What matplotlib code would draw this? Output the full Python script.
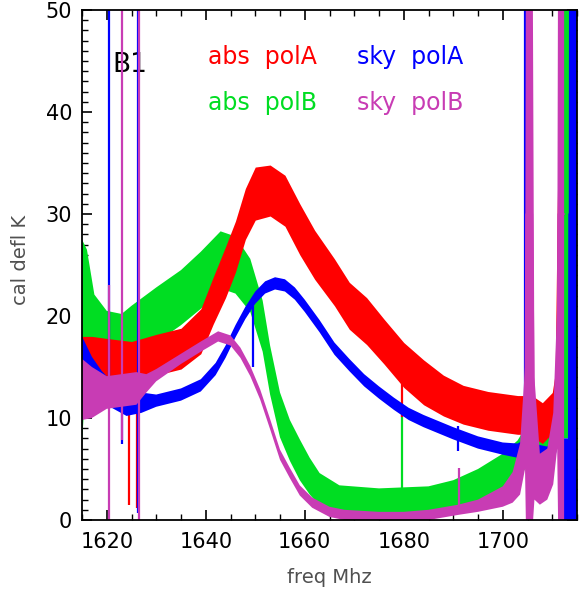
import numpy as np
from matplotlib import pyplot as plt
from matplotlib.ticker import MultipleLocator

# abs polA (red): centre of the noisy band and its half width
red_freq = [1615, 1617, 1620, 1625, 1630, 1635, 1639, 1641.5, 1644, 1646, 1648, 1650, 1653, 1656,
            1659, 1662, 1666, 1669, 1672.5, 1676, 1680, 1684, 1688, 1692, 1697, 1703, 1704,
            1706.5, 1708, 1710, 1710.8, 1711.5]
red_mid = [16, 16, 15.8, 15.5, 16.2, 16.8, 18.5, 21.5, 24.3, 26.8, 30, 32, 32.3, 31.3,
           28.5, 26, 23.3, 21, 19.5, 17.5, 15.2, 13.5, 12.2, 11.3, 10.7, 10.3, 10.3,
           10, 9.5, 10.5, 13, 40]
red_half = [2, 2, 2, 2, 2, 2, 2.2, 2.3, 2.5, 2.5, 2.5, 2.6, 2.5, 2.5,
            2.5, 2.4, 2.3, 2.3, 2.3, 2.2, 2.2, 2.2, 2.0, 1.9, 1.9, 1.9, 1.9,
            2, 2, 2, 2, 20]

# abs polB (green)
green_freq = [1615, 1616, 1617.5, 1620, 1623, 1625, 1630, 1635, 1639, 1643, 1646, 1649, 1651.5,
              1653, 1655, 1657, 1659, 1661, 1663, 1667, 1675, 1685, 1690, 1695, 1700, 1703,
              1704.5, 1706.5, 1708.5, 1710, 1711, 1712.2, 1713.4]
green_mid = [17.5, 21, 19.6, 18.3, 18, 18.5, 20.1, 21.8, 23.5, 25.5, 25, 23, 19,
             14.7, 10.3, 7.8, 5.9, 4.3, 3.0, 1.9, 1.6, 1.8, 2.3, 3.2, 4.5, 5.8,
             7, 8, 8, 9.5, 12, 34, 34]
green_half = [10, 5.5, 2.5, 2.2, 2.2, 2.5, 2.7, 2.7, 2.8, 2.8, 2.8, 2.6, 2.5,
              2.4, 2.2, 2.0, 2.0, 1.8, 1.6, 1.5, 1.5, 1.5, 1.6, 1.8, 2, 2,
              2, 2, 2, 2, 2, 26, 26]

# sky polA (blue)
blue_freq = [1615, 1617, 1619, 1621, 1624, 1627, 1630, 1635, 1639, 1642, 1644, 1646, 1648, 1650,
             1652, 1654, 1656, 1658, 1660, 1663, 1666, 1669, 1672, 1675, 1678, 1681, 1684,
             1687, 1690, 1695, 1700, 1703, 1705, 1707, 1709, 1710.5, 1711.5, 1712.3, 1713.3,
             1713.4, 1715]
blue_mid = [16.5, 14.5, 13.3, 12.3, 11.5, 11.5, 11.7, 12.3, 13.2, 14.8, 16.5, 18.5, 20.3, 21.8,
            22.8, 23.2, 23, 22.2, 21, 19, 16.8, 15.2, 13.7, 12.5, 11.4, 10.4, 9.7,
            9.1, 8.5, 7.6, 7.0, 6.8, 6.8, 6.2, 6.0, 7.0, 10, 3.5, 3.5,
            30, 30]
blue_half = [1.5, 1.5, 1.3, 1.3, 1.3, 1.0, 0.6, 0.6, 0.6, 0.6, 0.6, 0.6, 0.6, 0.6,
             0.6, 0.6, 0.6, 0.6, 0.6, 0.6, 0.6, 0.6, 0.6, 0.6, 0.6, 0.6, 0.6,
             0.6, 0.6, 0.6, 0.6, 0.7, 1.2, 1.2, 1.2, 1.2, 1.5, 4.5, 4.5,
             31, 31]

# sky polB (magenta)
mag_freq = [1615, 1617, 1620, 1623, 1626, 1628, 1630, 1635, 1639, 1642.5, 1645, 1647, 1649, 1651,
            1653, 1655, 1657, 1659, 1661.5, 1665, 1668, 1675, 1680, 1685, 1691, 1695, 1700,
            1702, 1703.5, 1704.5, 1704.7, 1706, 1706.4, 1707.5, 1709, 1710.2, 1711, 1711.2,
            1712.4]
mag_mid = [12.8, 12.5, 12.5, 12.7, 12.9, 13.4, 14.2, 15.8, 17, 18, 17.6, 16.4, 14.6, 12.3,
           9.4, 6.4, 4.6, 2.9, 1.7, 0.8, 0.5, 0.3, 0.3, 0.5, 1.0, 1.4, 2.3,
           3.2, 5, 10, 30, 30, 8, 4, 4.5, 7, 14, 30,
           30]
mag_half = [3, 2.5, 1.6, 1.6, 1.6, 0.9, 0.6, 0.5, 0.5, 0.5, 0.5, 0.5, 0.5, 0.5,
            0.5, 0.5, 0.5, 0.5, 0.5, 0.5, 0.5, 0.5, 0.5, 0.5, 0.5, 0.6, 1.0,
            1.5, 2.5, 5, 31, 31, 6, 2.5, 2.5, 3.5, 7, 31,
            31]

# narrow spikes: frequency, bottom, top
red_spike_x = [1624.5, 1626.2, 1679.6]
red_spike_lo = [1.5, 1.2, 10.1]
red_spike_hi = [15, 15, 15]
green_spike_x = [1679.7]
green_spike_lo = [1.5]
green_spike_hi = [10.3]
blue_spike_x = [1620.4, 1623.0, 1626.4, 1649.6, 1691.0, 1704.4]
blue_spike_lo = [12, 7.5, 0.7, 15, 6.8, 7]
blue_spike_hi = [55, 12, 55, 21, 9.2, 55]
mag_spike_x = [1620.4, 1623.0, 1626.6, 1691.2]
mag_spike_lo = [-1, 7.8, -1, 0.8]
mag_spike_hi = [23, 55, 55, 5.1]

RED = "#ff0000"
GREEN = "#00dd22"
BLUE = "#0000ff"
MAG = "#c83cb4"

fig = plt.figure(figsize=(5.79, 5.94), dpi=100)
ax = fig.add_axes([82 / 579, 74 / 594, 495 / 579, 510 / 594])

series = [
    (green_freq, green_mid, green_half, GREEN, green_spike_x, green_spike_lo, green_spike_hi, 2),
    (red_freq, red_mid, red_half, RED, red_spike_x, red_spike_lo, red_spike_hi, 3),
    (blue_freq, blue_mid, blue_half, BLUE, blue_spike_x, blue_spike_lo, blue_spike_hi, 4),
    (mag_freq, mag_mid, mag_half, MAG, mag_spike_x, mag_spike_lo, mag_spike_hi, 5),
]
for f, m, h, col, sx, slo, shi, z in series:
    f = np.array(f)
    m = np.array(m)
    h = np.array(h)
    ax.fill_between(f, m - h, m + h, color=col, lw=0, zorder=z)
    ax.plot(f, m, color=col, lw=1, zorder=z)
    ax.vlines(sx, slo, shi, color=col, lw=1.6, zorder=z)

ax.set_xlim(1615, 1715)
ax.set_ylim(0, 50)
ax.xaxis.set_major_locator(MultipleLocator(20))
ax.xaxis.set_minor_locator(MultipleLocator(5))
ax.yaxis.set_major_locator(MultipleLocator(10))
ax.yaxis.set_minor_locator(MultipleLocator(1))
ax.tick_params(which="both", direction="in", top=True, right=True, labelsize=15)
ax.tick_params(which="major", length=7, width=1.2)
ax.tick_params(which="minor", length=4, width=1.0)
ax.tick_params(axis="x", pad=9)
ax.tick_params(axis="y", pad=7)
for s in ax.spines.values():
    s.set_linewidth(1.3)
    s.set_zorder(10)

ax.set_xlabel("freq Mhz", fontsize=14, color="#505050")
ax.set_ylabel("cal defl K", fontsize=14, color="#505050")
ax.xaxis.set_label_coords(0.5, -0.094)
ax.yaxis.set_label_coords(-0.105, 0.51)

ax.text(1640.5, 45.4, "abs  polA", color=RED, fontsize=17, va="center", zorder=6)
ax.text(1670.6, 45.4, "sky  polA", color=BLUE, fontsize=17, va="center", zorder=6)
ax.text(1640.5, 40.9, "abs  polB", color=GREEN, fontsize=17, va="center", zorder=6)
ax.text(1670.6, 40.9, "sky  polB", color=MAG, fontsize=17, va="center", zorder=6)
ax.text(1621.2, 44.6, "B1", color="black", fontsize=19, va="center", zorder=1)

fig.savefig("out.png", dpi=100)
